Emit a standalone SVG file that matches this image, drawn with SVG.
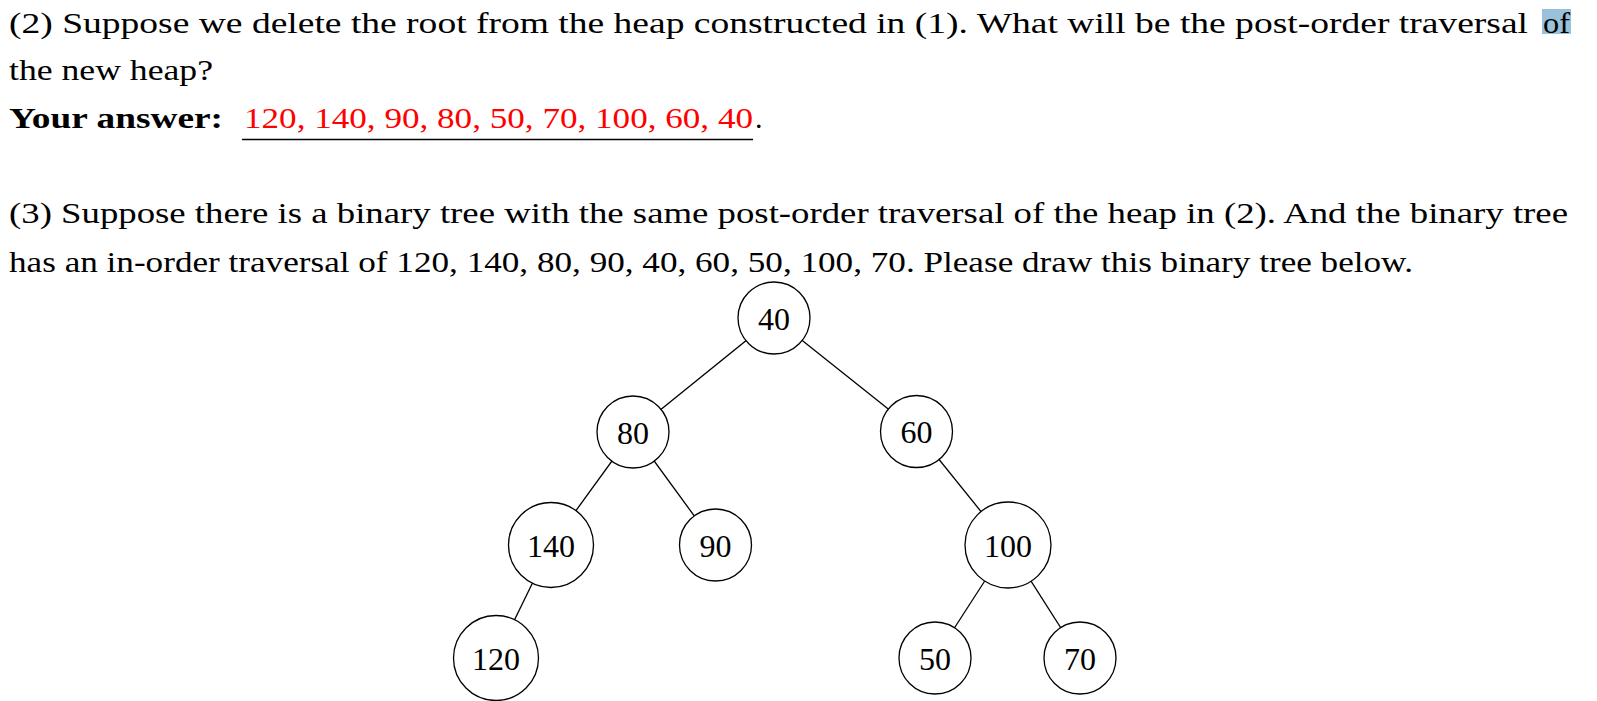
<svg xmlns="http://www.w3.org/2000/svg" width="1597" height="701" viewBox="0 0 1597 701">
<style>
.t{font-family:"Liberation Serif","Times New Roman",serif;font-size:30px;fill:#000}
.b{font-weight:bold}
.r{fill:#ff0000}
.n circle{fill:#fff;stroke:#000;stroke-width:1.3}
.n text{font-family:"Liberation Serif","Times New Roman",serif;font-size:32px;fill:#000;text-anchor:middle}
.e line{stroke:#000;stroke-width:1.3}
</style>
<rect width="1597" height="701" fill="#fff"/>
<g id="text">
<rect x="1542" y="9" width="29" height="25" fill="#99c1da"/>
<text class="t" x="9" y="33" textLength="1519" lengthAdjust="spacingAndGlyphs">(2) Suppose we delete the root from the heap constructed in (1). What will be the post-order traversal</text>
<text class="t" x="1543" y="33" textLength="27" lengthAdjust="spacingAndGlyphs">of</text>
<text class="t" x="9" y="80" textLength="204" lengthAdjust="spacingAndGlyphs">the new heap?</text>
<text class="t b" x="9" y="128" textLength="214" lengthAdjust="spacingAndGlyphs">Your answer:</text>
<text class="t r" x="244" y="128" textLength="509" lengthAdjust="spacingAndGlyphs">120, 140, 90, 80, 50, 70, 100, 60, 40</text>
<text class="t" x="755" y="128">.</text>
<line x1="242" y1="139.5" x2="753" y2="139.5" stroke="#000" stroke-width="1.3"/>
<text class="t" x="9" y="223" textLength="1559" lengthAdjust="spacingAndGlyphs">(3) Suppose there is a binary tree with the same post-order traversal of the heap in (2). And the binary tree</text>
<text class="t" x="9" y="272" textLength="1404" lengthAdjust="spacingAndGlyphs">has an in-order traversal of 120, 140, 80, 90, 40, 60, 50, 100, 70. Please draw this binary tree below.</text>
</g>
<g id="connectors" class="e">
<line x1="774" y1="318" x2="633" y2="432"/>
<line x1="774" y1="318" x2="916.5" y2="431.5"/>
<line x1="633" y1="432" x2="551" y2="545"/>
<line x1="633" y1="432" x2="715.5" y2="545"/>
<line x1="551" y1="545" x2="496" y2="658"/>
<line x1="916.5" y1="431.5" x2="1008" y2="545"/>
<line x1="1008" y1="545" x2="935" y2="658"/>
<line x1="1008" y1="545" x2="1080" y2="658"/>
</g>
<g id="n40" class="n"><circle cx="774" cy="318" r="36"/><text x="774" y="329.5">40</text></g>
<g id="n80" class="n"><circle cx="633" cy="432" r="36"/><text x="633" y="443.5">80</text></g>
<g id="n60" class="n"><circle cx="916.5" cy="431.5" r="36"/><text x="916.5" y="443">60</text></g>
<g id="n140" class="n"><circle cx="551" cy="545" r="42.5"/><text x="551" y="556.5">140</text></g>
<g id="n90" class="n"><circle cx="715.5" cy="545" r="36"/><text x="715.5" y="556.5">90</text></g>
<g id="n100" class="n"><circle cx="1008" cy="545" r="43"/><text x="1008" y="556.5">100</text></g>
<g id="n120" class="n"><circle cx="496" cy="658" r="42.5"/><text x="496" y="669.5">120</text></g>
<g id="n50" class="n"><circle cx="935" cy="658" r="36"/><text x="935" y="669.5">50</text></g>
<g id="n70" class="n"><circle cx="1080" cy="658" r="36"/><text x="1080" y="669.5">70</text></g>
</svg>
